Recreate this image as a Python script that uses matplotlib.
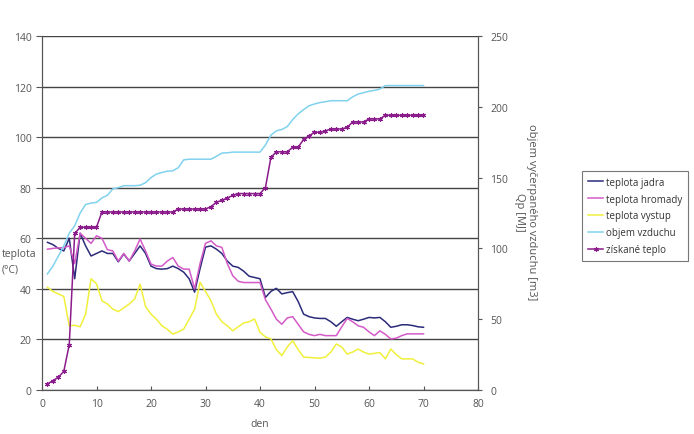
import matplotlib.pyplot as plt

# den (day index)
days = list(range(1, 71))

# left axis, teplota (degC)
teplota_jadra = [58.4, 57.5, 56, 55, 60, 44, 62, 57, 53, 54,
                 55, 54, 54, 50.7, 53.8, 51, 54, 57, 54, 49,
                 48, 47.8, 48, 49, 48, 46.6, 44, 38.7, 48, 56.5,
                 57, 55.7, 54, 51, 49, 48.5, 47, 45, 44.5, 44,
                 36.6, 39, 40.2, 38, 38.5, 38.9, 35, 30, 29, 28.5,
                 28.3, 28.3, 27, 25.2, 27, 28.7, 28, 27.4, 28, 28.7,
                 28.5, 28.7, 27, 24.8, 25.2, 25.8, 25.8, 25.5, 25, 24.8]
teplota_hromady = [55.7, 56, 56.2, 56.3, 57, 50, 62, 60, 58, 61,
                   60, 55.5, 55, 51, 54, 51, 55, 59.7, 55, 49.8,
                   49, 49, 51, 52.4, 49, 47.8, 47.8, 40, 50, 58,
                   59, 57, 56.4, 50, 45.2, 43, 42.5, 42.5, 42.5, 42.5,
                   35.7, 32, 28, 26, 28.5, 29, 26, 23, 22, 21.5,
                   22, 21.5, 21.5, 21.5, 25, 28.3, 27, 25.4, 24.8, 23,
                   21.5, 23.4, 22, 20.2, 20.5, 21.5, 22.2, 22.2, 22.2, 22.2]
teplota_vystup = [40.6, 39, 38, 37, 25.4, 25.6, 25, 30, 44, 42,
                  35.3, 34, 32, 31, 32.5, 34, 36, 41.9, 33, 30,
                  28, 25.4, 24, 22.1, 23, 24.1, 28, 32, 42.6, 39,
                  35.3, 30, 27, 25.4, 23.4, 25, 26.5, 27, 28.1, 22.8,
                  21, 20.2, 16, 13.6, 17, 19.5, 16, 13, 12.9, 12.7,
                  12.6, 13, 15, 18.2, 17, 14.2, 15, 16.2, 15, 14.2,
                  14.5, 14.8, 12.3, 16.2, 14, 12.3, 12.3, 12.3, 11, 10.3]

# right axis
objem_vzduchu = [82, 87.5, 94.6, 101.8, 110.7, 116, 125, 131, 132, 132.5,
                 135.7, 137.5, 142, 142.9, 144.3, 144.3, 144.3, 144.6, 146.4, 150,
                 152.5, 153.6, 154.5, 154.8, 157, 162.5, 163, 163, 163, 163,
                 163, 165, 167.3, 167.5, 168, 168, 168, 168, 168, 168,
                 173, 180, 183, 184, 186, 191, 195, 198, 200.7, 202,
                 203, 203.6, 204.3, 204.3, 204.3, 204.3, 207, 209, 210, 211,
                 211.6, 212.5, 215, 215, 215, 215, 215, 215, 215, 215]
ziskane_teplo = [4.3, 6.6, 9, 13.2, 32, 110.7, 114.8, 115, 115, 115,
                 125.7, 125.7, 125.7, 125.7, 125.7, 125.7, 125.7, 125.7, 125.7, 125.7,
                 125.7, 125.7, 125.7, 125.7, 127.8, 127.8, 127.8, 127.8, 127.8, 127.8,
                 129.5, 132.5, 134, 135.5, 137.5, 138.7, 138.7, 138.7, 138.7, 138.7,
                 143, 164.3, 168.2, 168.2, 168.2, 171.4, 171.4, 177, 179.5, 182,
                 182, 183, 184.3, 184.3, 184.3, 185.5, 189.3, 189.3, 189.3, 191.4,
                 191.4, 191.4, 194, 194, 194, 194, 194, 194, 194, 194]

plt.rcParams['font.family'] = ['Open Sans', 'DejaVu Sans']
tick_col = '#555555'

fig = plt.figure(figsize=(6.94, 4.35), dpi=100)
ax = fig.add_axes([42/694, 44/435, 436/694, 354/435])
ax2 = ax.twinx()

l1, = ax.plot(days, teplota_jadra, color='#2b2b7a', lw=1.1, label='teplota jadra')
l2, = ax.plot(days, teplota_hromady, color='#d45ac8', lw=1.1, label='teplota hromady')
l3, = ax.plot(days, teplota_vystup, color='#f0f03c', lw=1.1, label='teplota vystup')
l4, = ax2.plot(days, objem_vzduchu, color='#80d2ee', lw=1.1, label='objem vzduchu')
l5, = ax2.plot(days, ziskane_teplo, color='#8b1c8b', lw=1.1, marker=(6, 2, 0),
               ms=3.5, mew=0.8, label='získané teplo')

ax.set_xlim(0, 80)
ax.set_ylim(0, 140)
ax2.set_ylim(0, 250)
ax.set_xticks(range(0, 81, 10))
ax.set_yticks(range(0, 141, 20))
ax2.set_yticks(range(0, 251, 50))
ax.yaxis.grid(True, color='#444444', lw=1)
ax.set_axisbelow(True)

for a in (ax, ax2):
    a.spines['top'].set_visible(False)
    for s in a.spines.values():
        s.set_color('#555555')
ax.tick_params(axis='y', direction='out', length=4, colors=tick_col, labelsize=7.5)
ax.tick_params(axis='x', direction='in', length=3, colors=tick_col, labelsize=7.5, pad=6)
ax2.tick_params(axis='y', direction='out', length=3, colors=tick_col, labelsize=7.5, pad=6)

ax.set_xlabel('den', color=tick_col, fontsize=7.5, labelpad=6)
fig.text(2/694, 1 - 262/435, 'teplota\n(°C)', ha='left', va='center',
         color=tick_col, fontsize=7.5, linespacing=1.6)
fig.text(532/694, 1 - 212/435, 'objem vyčerpaného vzduchu [m3]', rotation=270,
         ha='center', va='center', color=tick_col, fontsize=8)
fig.text(520/694, 1 - 212/435, 'Qp [MJ]', rotation=270,
         ha='center', va='center', color=tick_col, fontsize=8)

leg = fig.legend(handles=[l1, l2, l3, l4, l5], loc='upper left',
                 bbox_to_anchor=(582/694, 1 - 172/435), borderaxespad=0,
                 fontsize=7, frameon=True, fancybox=False, edgecolor='#555555',
                 handlelength=1.6, handletextpad=0.3, labelspacing=0.6,
                 borderpad=0.6, labelcolor='#333333')
leg.get_frame().set_linewidth(0.8)

fig.savefig('out.png', dpi=100)
